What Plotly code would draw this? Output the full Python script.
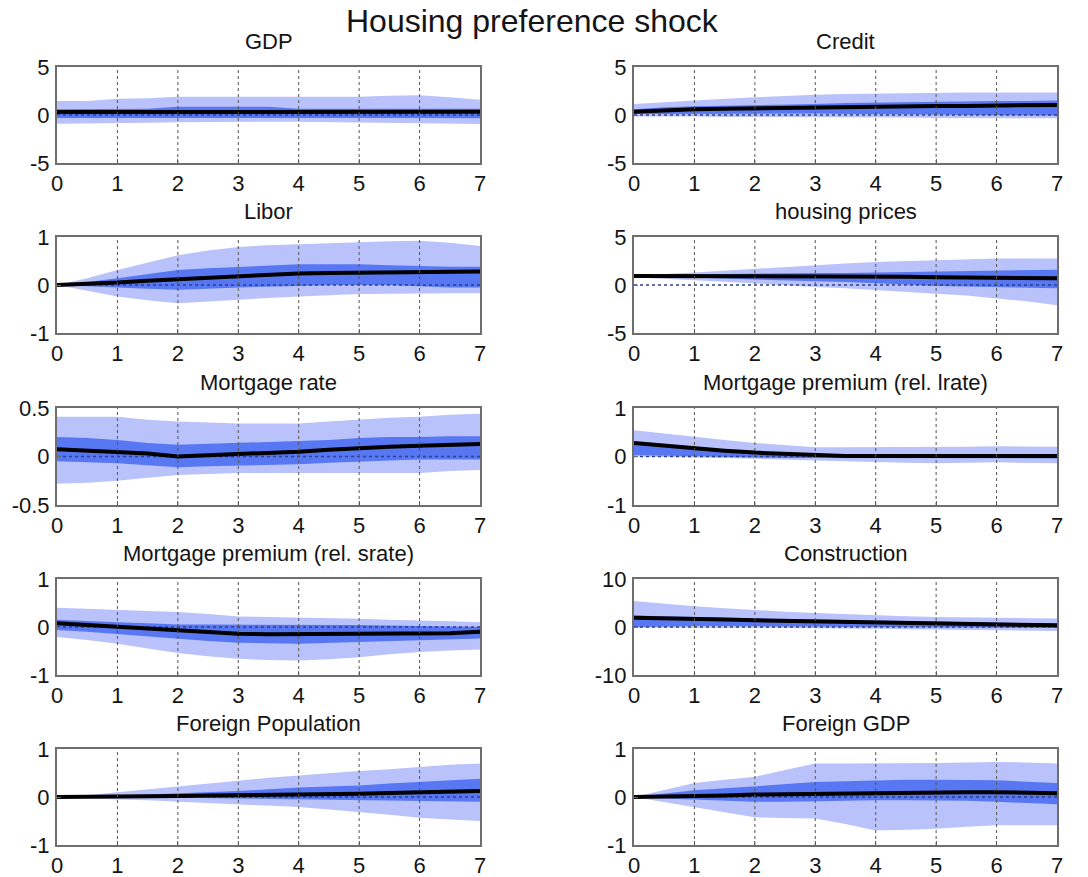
import plotly.graph_objects as go

# Horizon in years (half-year steps)
years = [0, 0.5, 1, 1.5, 2, 2.5, 3, 3.5, 4, 4.5, 5, 5.5, 6, 6.5, 7]
x_ticks = [0, 1, 2, 3, 4, 5, 6, 7]

# ---- GDP ----
gdp_med    = [0.3, 0.3, 0.3, 0.3, 0.35, 0.35, 0.35, 0.35, 0.35, 0.35, 0.35, 0.35, 0.35, 0.35, 0.35]
gdp_in_hi  = [0.6, 0.6, 0.6, 0.65, 0.85, 0.85, 0.85, 0.85, 0.65, 0.65, 0.65, 0.65, 0.65, 0.65, 0.65]
gdp_in_lo  = [-0.3, -0.3, -0.3, -0.3, -0.3, -0.3, -0.3, -0.3, -0.3, -0.3, -0.3, -0.3, -0.3, -0.3, -0.35]
gdp_out_hi = [1.45, 1.45, 1.7, 1.75, 1.9, 1.9, 1.9, 1.9, 1.9, 1.9, 1.9, 2.0, 2.05, 1.85, 1.6]
gdp_out_lo = [-0.9, -0.9, -0.85, -0.8, -0.75, -0.7, -0.7, -0.7, -0.7, -0.7, -0.75, -0.8, -0.85, -0.9, -0.95]

# ---- Credit ----
credit_med    = [0.35, 0.5, 0.6, 0.65, 0.7, 0.75, 0.8, 0.9, 0.95, 0.95, 0.95, 0.95, 1.0, 1.0, 1.05]
credit_in_hi  = [0.6, 0.8, 0.9, 0.95, 1.05, 1.1, 1.15, 1.25, 1.3, 1.35, 1.35, 1.4, 1.45, 1.45, 1.5]
credit_in_lo  = [0.1, 0.15, 0.15, 0.15, 0.15, 0.15, 0.15, 0.1, 0.1, 0.05, 0.05, 0.0, 0.0, -0.05, -0.05]
credit_out_hi = [1.15, 1.35, 1.55, 1.7, 1.85, 2.0, 2.1, 2.2, 2.25, 2.3, 2.35, 2.35, 2.35, 2.35, 2.35]
credit_out_lo = [-0.15, -0.15, -0.15, -0.2, -0.2, -0.2, -0.2, -0.25, -0.25, -0.25, -0.3, -0.3, -0.3, -0.35, -0.35]

# ---- Libor ----
libor_med    = [0, 0.02, 0.05, 0.09, 0.12, 0.16, 0.19, 0.22, 0.24, 0.25, 0.26, 0.27, 0.27, 0.28, 0.28]
libor_in_hi  = [0, 0.06, 0.14, 0.22, 0.31, 0.35, 0.38, 0.41, 0.43, 0.43, 0.43, 0.41, 0.39, 0.38, 0.38]
libor_in_lo  = [0, -0.03, -0.05, -0.08, -0.1, -0.08, -0.05, -0.03, -0.02, 0.0, 0.0, 0.0, -0.02, -0.05, -0.05]
libor_out_hi = [0, 0.14, 0.31, 0.47, 0.62, 0.72, 0.79, 0.83, 0.85, 0.88, 0.9, 0.91, 0.92, 0.88, 0.81]
libor_out_lo = [0, -0.12, -0.24, -0.32, -0.38, -0.35, -0.31, -0.27, -0.24, -0.21, -0.19, -0.18, -0.17, -0.17, -0.17]

# ---- housing prices ----
hp_med    = [0.95, 0.95, 0.95, 0.95, 0.95, 0.95, 0.95, 0.95, 0.85, 0.85, 0.8, 0.8, 0.75, 0.7, 0.7]
hp_in_hi  = [1.05, 1.05, 1.1, 1.15, 1.2, 1.2, 1.25, 1.25, 1.3, 1.35, 1.4, 1.45, 1.5, 1.55, 1.6]
hp_in_lo  = [0.85, 0.8, 0.75, 0.65, 0.55, 0.5, 0.4, 0.3, 0.2, 0.05, -0.1, -0.2, -0.25, -0.3, -0.35]
hp_out_hi = [1.1, 1.15, 1.3, 1.5, 1.7, 1.9, 2.1, 2.25, 2.4, 2.5, 2.6, 2.7, 2.75, 2.75, 2.75]
hp_out_lo = [0.8, 0.65, 0.5, 0.35, 0.2, 0.0, -0.2, -0.35, -0.5, -0.7, -0.9, -1.1, -1.4, -1.7, -2.1]

# ---- Mortgage rate ----
mr_med    = [0.075, 0.06, 0.05, 0.03, 0.0, 0.01, 0.03, 0.04, 0.05, 0.07, 0.09, 0.1, 0.11, 0.12, 0.13]
mr_in_hi  = [0.2, 0.19, 0.17, 0.14, 0.12, 0.13, 0.14, 0.15, 0.155, 0.17, 0.19, 0.2, 0.2, 0.21, 0.21]
mr_in_lo  = [-0.05, -0.06, -0.07, -0.09, -0.11, -0.1, -0.09, -0.085, -0.08, -0.065, -0.05, -0.04, -0.03, -0.03, -0.03]
mr_out_hi = [0.41, 0.41, 0.41, 0.38, 0.36, 0.35, 0.34, 0.34, 0.34, 0.36, 0.38, 0.4, 0.41, 0.43, 0.44]
mr_out_lo = [-0.28, -0.27, -0.25, -0.22, -0.19, -0.18, -0.17, -0.17, -0.17, -0.17, -0.17, -0.17, -0.17, -0.15, -0.14]

# ---- Mortgage premium (rel. lrate) ----
mpl_med    = [0.28, 0.22, 0.17, 0.12, 0.08, 0.05, 0.02, 0.01, 0.01, 0.01, 0.01, 0.01, 0.01, 0.01, 0.01]
mpl_in_hi  = [0.3, 0.25, 0.2, 0.14, 0.1, 0.07, 0.05, 0.05, 0.05, 0.05, 0.05, 0.05, 0.05, 0.05, 0.05]
mpl_in_lo  = [0.03, 0.02, 0.0, -0.01, -0.02, -0.03, -0.03, -0.03, -0.04, -0.04, -0.04, -0.04, -0.04, -0.04, -0.04]
mpl_out_hi = [0.54, 0.47, 0.4, 0.34, 0.28, 0.23, 0.19, 0.19, 0.19, 0.19, 0.19, 0.2, 0.21, 0.2, 0.2]
mpl_out_lo = [0.0, -0.01, -0.02, -0.03, -0.05, -0.06, -0.08, -0.1, -0.12, -0.13, -0.14, -0.13, -0.12, -0.13, -0.14]

# ---- Mortgage premium (rel. srate) ----
mps_med    = [0.08, 0.04, 0.0, -0.04, -0.07, -0.11, -0.14, -0.15, -0.15, -0.15, -0.15, -0.15, -0.15, -0.13, -0.1]
mps_in_hi  = [0.15, 0.12, 0.1, 0.08, 0.05, 0.05, 0.05, 0.05, 0.05, 0.05, 0.04, 0.03, 0.02, 0.01, 0.0]
mps_in_lo  = [-0.06, -0.1, -0.14, -0.19, -0.24, -0.29, -0.33, -0.34, -0.35, -0.33, -0.31, -0.3, -0.28, -0.26, -0.24]
mps_out_hi = [0.4, 0.38, 0.36, 0.34, 0.31, 0.27, 0.22, 0.21, 0.2, 0.18, 0.17, 0.15, 0.14, 0.12, 0.1]
mps_out_lo = [-0.21, -0.27, -0.35, -0.45, -0.54, -0.61, -0.66, -0.69, -0.7, -0.67, -0.63, -0.57, -0.52, -0.49, -0.47]

# ---- Construction ----
con_med    = [1.95, 1.75, 1.7, 1.55, 1.4, 1.3, 1.25, 1.15, 1.05, 0.9, 0.7, 0.6, 0.55, 0.45, 0.35]
con_in_hi  = [2.4, 2.2, 2.1, 1.95, 1.8, 1.7, 1.6, 1.5, 1.4, 1.25, 1.1, 1.0, 0.9, 0.8, 0.7]
con_in_lo  = [0.0, 0.1, 0.2, 0.2, 0.2, 0.2, 0.2, 0.15, 0.1, 0.05, 0.0, -0.05, -0.1, -0.15, -0.2]
con_out_hi = [5.4, 4.8, 4.3, 3.9, 3.5, 3.2, 2.9, 2.65, 2.4, 2.25, 2.1, 2.0, 1.95, 1.85, 1.75]
con_out_lo = [-0.15, -0.15, -0.15, -0.15, -0.15, -0.2, -0.2, -0.25, -0.35, -0.45, -0.55, -0.6, -0.7, -0.8, -0.85]

# ---- Foreign Population ----
fp_med    = [0, 0, 0, 0.01, 0.02, 0.03, 0.035, 0.04, 0.05, 0.06, 0.07, 0.085, 0.1, 0.11, 0.125]
fp_in_hi  = [0, 0.01, 0.03, 0.05, 0.07, 0.1, 0.125, 0.16, 0.2, 0.22, 0.24, 0.28, 0.31, 0.35, 0.38]
fp_in_lo  = [0, -0.005, -0.01, -0.012, -0.015, -0.025, -0.035, -0.04, -0.05, -0.06, -0.07, -0.08, -0.085, -0.09, -0.1]
fp_out_hi = [0, 0.035, 0.1, 0.16, 0.22, 0.28, 0.35, 0.4, 0.45, 0.5, 0.54, 0.58, 0.63, 0.67, 0.7]
fp_out_lo = [0, -0.03, -0.05, -0.07, -0.1, -0.12, -0.15, -0.18, -0.21, -0.26, -0.31, -0.37, -0.43, -0.47, -0.5]

# ---- Foreign GDP ----
fg_med    = [0, 0.005, 0.01, 0.03, 0.05, 0.06, 0.07, 0.075, 0.08, 0.09, 0.1, 0.1, 0.1, 0.09, 0.08]
fg_in_hi  = [0, 0.07, 0.14, 0.18, 0.22, 0.27, 0.31, 0.33, 0.35, 0.36, 0.36, 0.36, 0.35, 0.32, 0.29]
fg_in_lo  = [0, -0.03, -0.05, -0.08, -0.1, -0.1, -0.1, -0.08, -0.07, -0.07, -0.07, -0.08, -0.1, -0.12, -0.15]
fg_out_hi = [0, 0.14, 0.29, 0.36, 0.42, 0.56, 0.7, 0.7, 0.7, 0.7, 0.71, 0.72, 0.73, 0.72, 0.7]
fg_out_lo = [0, -0.1, -0.21, -0.32, -0.42, -0.44, -0.45, -0.56, -0.7, -0.68, -0.66, -0.62, -0.59, -0.59, -0.59]

titles = ["GDP", "Credit", "Libor", "housing prices", "Mortgage rate",
          "Mortgage premium (rel. lrate)", "Mortgage premium (rel. srate)",
          "Construction", "Foreign Population", "Foreign GDP"]
y_limits = [5, 5, 1, 5, 0.5, 1, 1, 10, 1, 1]
y_tick_text = [["-5", "0", "5"], ["-5", "0", "5"], ["-1", "0", "1"], ["-5", "0", "5"],
               ["-0.5", "0", "0.5"], ["-1", "0", "1"], ["-1", "0", "1"],
               ["-10", "0", "10"], ["-1", "0", "1"], ["-1", "0", "1"]]

panels = [
    (gdp_med, gdp_in_lo, gdp_in_hi, gdp_out_lo, gdp_out_hi),
    (credit_med, credit_in_lo, credit_in_hi, credit_out_lo, credit_out_hi),
    (libor_med, libor_in_lo, libor_in_hi, libor_out_lo, libor_out_hi),
    (hp_med, hp_in_lo, hp_in_hi, hp_out_lo, hp_out_hi),
    (mr_med, mr_in_lo, mr_in_hi, mr_out_lo, mr_out_hi),
    (mpl_med, mpl_in_lo, mpl_in_hi, mpl_out_lo, mpl_out_hi),
    (mps_med, mps_in_lo, mps_in_hi, mps_out_lo, mps_out_hi),
    (con_med, con_in_lo, con_in_hi, con_out_lo, con_out_hi),
    (fp_med, fp_in_lo, fp_in_hi, fp_out_lo, fp_out_hi),
    (fg_med, fg_in_lo, fg_in_hi, fg_out_lo, fg_out_hi),
]

OUTER = "#b9c2fa"
INNER = "#5877f3"
FONT = "Liberation Sans, Arial, sans-serif"
TXT = "#141414"

W, H = 1088, 877
col_x = [(57, 480), (634, 1057)]
row_y = [(67, 163), (237, 333), (408, 505), (579, 675), (749, 845)]

fig = go.Figure()
layout = dict(
    width=W, height=H,
    margin=dict(l=0, r=0, t=0, b=0, autoexpand=False),
    paper_bgcolor="white", plot_bgcolor="white",
    showlegend=False,
    font=dict(family=FONT, size=22, color=TXT),
)
annotations = []
shapes = []

for i, (med, in_lo, in_hi, out_lo, out_hi) in enumerate(panels):
    r, c = divmod(i, 2)
    n = i + 1
    xa = "x" if n == 1 else f"x{n}"
    ya = "y" if n == 1 else f"y{n}"
    x0p, x1p = col_x[c]
    t0p, b0p = row_y[r]
    xdom = [x0p / W, x1p / W]
    ydom = [1 - b0p / H, 1 - t0p / H]
    lim = y_limits[i]

    band_x = years + years[::-1]
    fig.add_trace(go.Scatter(x=band_x, y=out_hi + out_lo[::-1], fill="toself",
                             fillcolor=OUTER, line=dict(width=0), mode="lines",
                             hoverinfo="skip", xaxis=xa, yaxis=ya))
    fig.add_trace(go.Scatter(x=band_x, y=in_hi + in_lo[::-1], fill="toself",
                             fillcolor=INNER, line=dict(width=0), mode="lines",
                             hoverinfo="skip", xaxis=xa, yaxis=ya))
    # dotted zero reference
    fig.add_trace(go.Scatter(x=[years[0], years[-1]], y=[0, 0], mode="lines",
                             line=dict(color="#2d3f8f", width=1.6, dash="dot"),
                             hoverinfo="skip", xaxis=xa, yaxis=ya))
    # median response
    fig.add_trace(go.Scatter(x=years, y=med, mode="lines",
                             line=dict(color="black", width=4),
                             xaxis=xa, yaxis=ya))

    # dotted vertical grid at interior ticks, drawn above the bands
    for xv in x_ticks[1:-1]:
        shapes.append(dict(type="line", xref=xa, yref=f"{ya} domain",
                           x0=xv, x1=xv, y0=0, y1=1, layer="above",
                           line=dict(color="#555555", width=1, dash="dot")))

    axis_common = dict(showline=True, mirror=True, linecolor="#6e6e6e", linewidth=2,
                       showgrid=False, zeroline=False, fixedrange=True, automargin=False,
                       ticks="inside", ticklen=4, tickcolor="#6e6e6e",
                       tickfont=dict(family=FONT, size=22, color=TXT))
    layout["xaxis" if n == 1 else f"xaxis{n}"] = dict(
        domain=xdom, range=[0, 7], tickvals=x_ticks, anchor=ya,
        ticklabelstandoff=0, **axis_common)
    layout["yaxis" if n == 1 else f"yaxis{n}"] = dict(
        domain=ydom, range=[-lim, lim], tickvals=[-lim, 0, lim],
        ticktext=y_tick_text[i], anchor=xa, ticklabelstandoff=1, **axis_common)

    annotations.append(dict(text=titles[i], xref="paper", yref="paper",
                            x=(xdom[0] + xdom[1]) / 2, y=ydom[1] + 11 / H,
                            xanchor="center", yanchor="bottom", showarrow=False,
                            font=dict(family=FONT, size=22, color=TXT)))

annotations.append(dict(text="Housing preference shock", xref="paper", yref="paper",
                        x=532 / W, y=1 - 1 / H, xanchor="center", yanchor="top",
                        showarrow=False,
                        font=dict(family=FONT, size=32, color=TXT)))

layout["annotations"] = annotations
layout["shapes"] = shapes
fig.update_layout(**layout)

fig.write_html("out.html", config={"displayModeBar": False})
